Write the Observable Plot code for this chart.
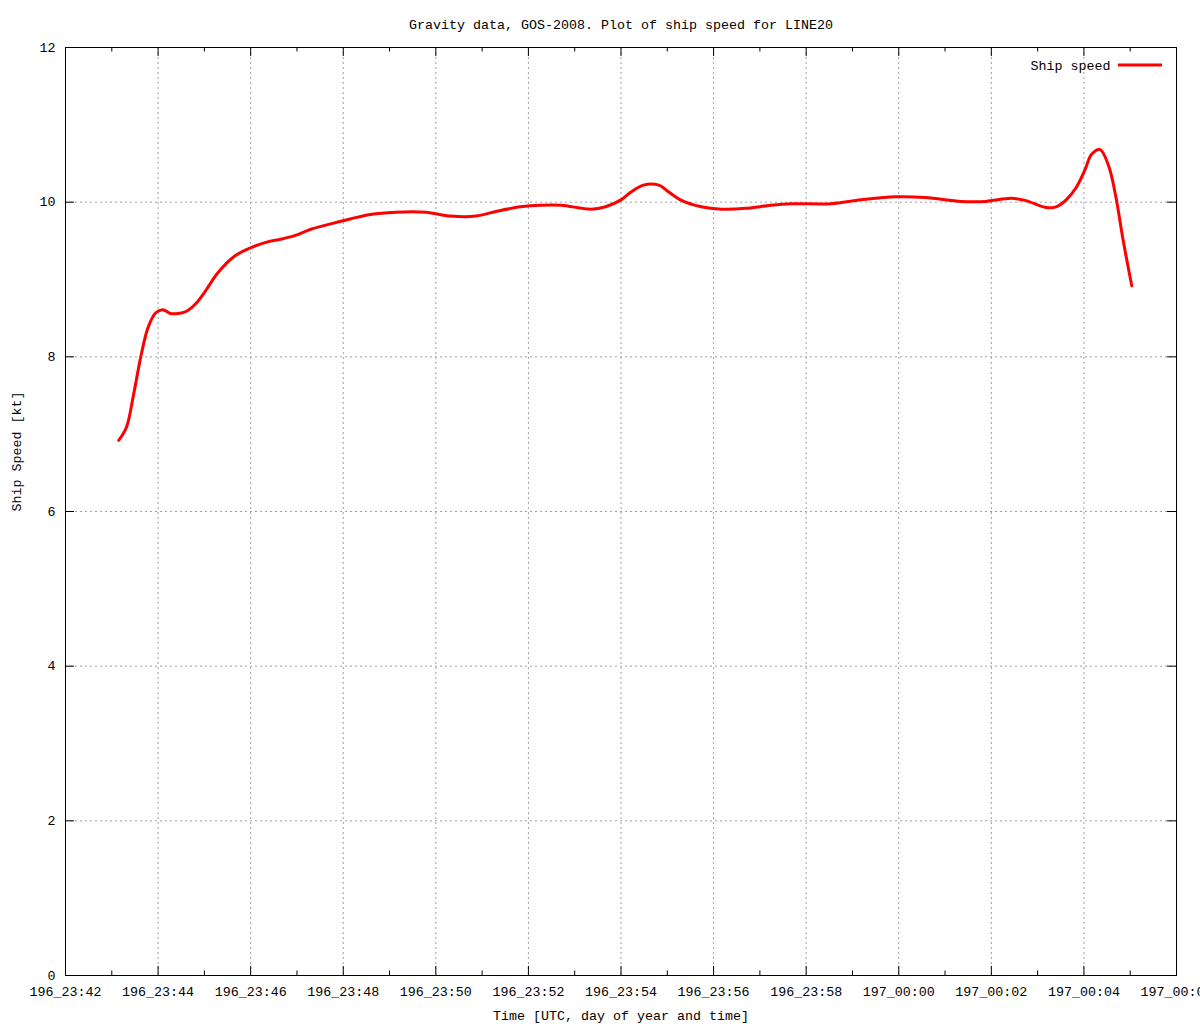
<!DOCTYPE html>
<html>
<head>
<meta charset="utf-8">
<script src="https://cdn.jsdelivr.net/npm/d3@7"></script>
<script src="https://cdn.jsdelivr.net/npm/@observablehq/plot@0.6"></script>
<style>
  html, body { margin: 0; padding: 0; background: #fff; }
</style>
</head>
<body>
<div id="chart"></div>
<script>
// ---- Data ----
const titleText = "Gravity data, GOS-2008. Plot of ship speed for LINE20";
const xLabel = "Time [UTC, day of year and time]";
const yLabel = "Ship Speed [kt]";
const seriesName = "Ship speed";

const times = [
  "196_23:43:09","196_23:43:19","196_23:43:28","196_23:43:38","196_23:43:47","196_23:43:57",
  "196_23:44:06","196_23:44:16","196_23:44:26","196_23:44:37","196_23:44:49","196_23:45:02",
  "196_23:45:17","196_23:45:39","196_23:46:00","196_23:46:23","196_23:46:39","196_23:46:58",
  "196_23:47:18","196_23:47:56","196_23:48:35","196_23:49:08","196_23:49:47","196_23:50:19",
  "196_23:50:52","196_23:51:18","196_23:51:50","196_23:52:16","196_23:52:42","196_23:53:21",
  "196_23:53:40","196_23:54:00","196_23:54:13","196_23:54:29","196_23:54:49","196_23:55:02",
  "196_23:55:17","196_23:55:44","196_23:56:10","196_23:56:42","196_23:57:14","196_23:57:40",
  "196_23:58:32","196_23:59:11","196_23:59:56","197_00:00:35","197_00:01:21","197_00:01:53",
  "197_00:02:26","197_00:02:45","197_00:03:11","197_00:03:24","197_00:03:37","197_00:03:50",
  "197_00:04:01","197_00:04:10","197_00:04:21","197_00:04:32","197_00:04:41","197_00:04:51",
  "197_00:05:02"
];
const speeds = [
  6.92, 7.09, 7.50, 8.02, 8.38, 8.57,
  8.61, 8.56, 8.56, 8.59, 8.69, 8.86,
  9.08, 9.30, 9.41, 9.49, 9.52, 9.57,
  9.65, 9.75, 9.84, 9.87, 9.87, 9.82,
  9.82, 9.88, 9.94, 9.96, 9.96, 9.91,
  9.94, 10.03, 10.13, 10.22, 10.22, 10.13,
  10.03, 9.94, 9.91, 9.92, 9.96, 9.98,
  9.98, 10.03, 10.07, 10.06, 10.01, 10.01,
  10.05, 10.02, 9.93, 9.94, 10.03, 10.19,
  10.41, 10.62, 10.68, 10.47, 10.09, 9.50,
  8.92
];
const xTickLabels = [
  "196_23:42","196_23:44","196_23:46","196_23:48","196_23:50","196_23:52","196_23:54",
  "196_23:56","196_23:58","197_00:00","197_00:02","197_00:04","197_00:06"
];
const yTicks = [0, 2, 4, 6, 8, 10, 12];

// ---- Build ----
const parseFull = d3.utcParse("%j_%H:%M:%S");
const parseTick = d3.utcParse("%j_%H:%M");
const fmtTick = d3.utcFormat("%j_%H:%M");
const data = times.map((t, i) => ({time: parseFull(t), speed: speeds[i]}));
const majorX = xTickLabels.map(parseTick);
const x0 = majorX[0], x1 = majorX[majorX.length - 1];
const minorX = d3.utcMinute.range(x0, x1).filter(d => d.getUTCMinutes() % 2 === 1);
const gridXVals = majorX.slice(1, -1);
const gridYVals = yTicks.slice(1, -1);

const W = 1200, H = 1024;
const mL = 65, mR = 24, mT = 47, mB = 49;
const plotW = W - mL - mR, plotH = H - mT - mB;
const major = 9, minor = 4.5;
const gridStyle = {stroke: "#a0a0a0", strokeOpacity: 1, strokeDasharray: "2,3"};

const legendLine = (index, scales, values, dims) => {
  const g = document.createElementNS("http://www.w3.org/2000/svg", "line");
  const xr = dims.width - dims.marginRight;
  g.setAttribute("x1", xr - 58);
  g.setAttribute("x2", xr - 14);
  g.setAttribute("y1", dims.marginTop + 18);
  g.setAttribute("y2", dims.marginTop + 18);
  g.setAttribute("stroke", "#ff0000");
  g.setAttribute("stroke-width", 3);
  return g;
};

const chart = Plot.plot({
  width: W,
  height: H,
  marginLeft: mL,
  marginRight: mR,
  marginTop: mT,
  marginBottom: mB,
  style: {fontFamily: "'Liberation Mono', 'DejaVu Sans Mono', monospace", fontSize: "13.33px", background: "#fff", color: "#000"},
  x: {type: "utc", domain: [x0, x1], label: null},
  y: {domain: [0, 12], label: null},
  marks: [
    Plot.gridX(gridXVals, gridStyle),
    Plot.gridY(gridYVals, gridStyle),
    // inward ticks: bottom & top (major + minor)
    Plot.tickX(majorX, {x: d => d, insetTop: plotH - major, stroke: "#000"}),
    Plot.tickX(majorX, {x: d => d, insetBottom: plotH - major, stroke: "#000"}),
    Plot.tickX(minorX, {x: d => d, insetTop: plotH - minor, stroke: "#000"}),
    Plot.tickX(minorX, {x: d => d, insetBottom: plotH - minor, stroke: "#000"}),
    // inward ticks: left & right
    Plot.tickY(yTicks, {y: d => d, insetRight: plotW - major, stroke: "#000"}),
    Plot.tickY(yTicks, {y: d => d, insetLeft: plotW - major, stroke: "#000"}),
    Plot.axisX(majorX, {tickFormat: fmtTick, tickSize: 0, tickPadding: 11, label: null, fill: "#000"}),
    Plot.axisY(yTicks, {tickFormat: d => String(d), tickSize: 0, tickPadding: 10, label: null, fill: "#000"}),
    Plot.frame({stroke: "#000"}),
    Plot.line(data, {x: "time", y: "speed", stroke: "#ff0000", strokeWidth: 3, curve: "catmull-rom"}),
    Plot.text([titleText], {frameAnchor: "top", lineAnchor: "middle", dy: -23, fill: "#000"}),
    Plot.text([xLabel], {frameAnchor: "bottom", lineAnchor: "middle", dy: 40, fill: "#000"}),
    Plot.text([yLabel], {frameAnchor: "left", lineAnchor: "middle", dx: -49, rotate: -90, fill: "#000"}),
    Plot.text([seriesName], {frameAnchor: "top-right", lineAnchor: "middle", dx: -66, dy: 18.5, textAnchor: "end", fill: "#000"}),
    legendLine
  ]
});
document.getElementById("chart").append(chart);
</script>
</body>
</html>
